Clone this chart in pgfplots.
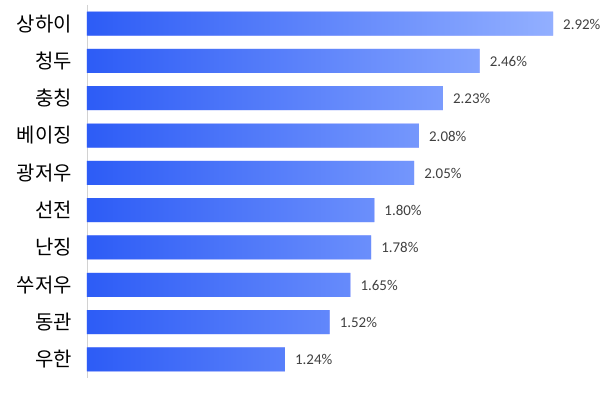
\documentclass[border=0pt]{standalone}
\usepackage{fontspec}
\usepackage{pgfplots}
\pgfplotsset{compat=1.18}
\newfontfamily\krfont{Noto Sans CJK KR}
\newfontfamily\numfont{Carlito}
\definecolor{barL}{HTML}{2D5CF6}
\definecolor{barR}{HTML}{92AFFF}
\definecolor{lbl}{HTML}{404040}
\begin{document}
\begin{tikzpicture}[x=1bp,y=1bp]
\useasboundingbox (-87,-16) rectangle (523,378);
\begin{axis}[at={(0,0)}, anchor=south west, scale only axis,
  width=510.7bp, height=373bp,
  xmin=0, xmax=3.2, ymin=-0.5, ymax=9.5, y dir=reverse,
  xbar, bar width=24bp,
  axis x line=none, axis y line*=left,
  y axis line style={draw=gray!35, line width=0.8pt, -},
  ytick={0,...,9},
  yticklabels={상하이,청두,충칭,베이징,광저우,선전,난징,쑤저우,동관,우한},
  yticklabel style={font=\krfont\fontsize{20}{20}\selectfont, text=black, inner sep=0pt, xshift=-15bp},
  major tick length=0pt, ytick style={draw=none},
  nodes near coords={\pgfmathprintnumber[fixed,fixed zerofill,precision=2,assume math mode=true]{\pgfplotspointmeta}\%},
  nodes near coords style={font=\numfont\fontsize{15}{15}\selectfont, text=lbl, anchor=west, inner sep=0pt, xshift=10bp, yshift=-0.5bp},
  every axis plot/.append style={draw=none, left color=barL, right color=barR},
]
\addplot coordinates {(2.92,0) (2.46,1) (2.23,2) (2.08,3) (2.05,4) (1.80,5) (1.78,6) (1.65,7) (1.52,8) (1.24,9)};
\end{axis}
\end{tikzpicture}
\end{document}
